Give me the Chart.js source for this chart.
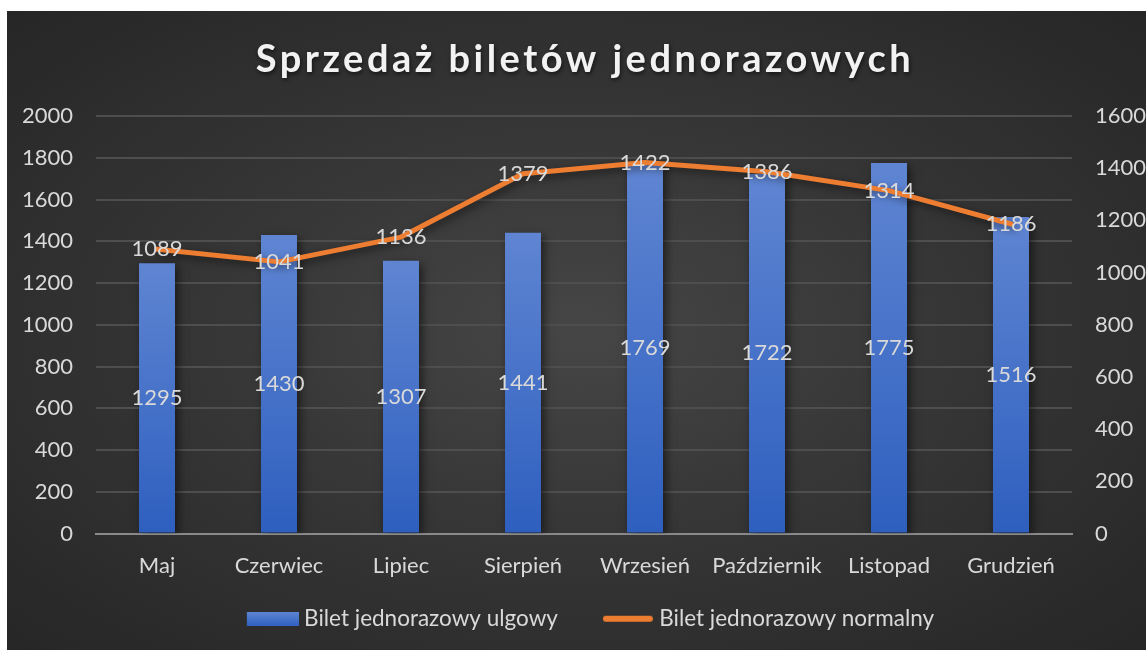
<!DOCTYPE html>
<html lang="pl">
<head>
<meta charset="utf-8">
<title>Sprzedaż biletów jednorazowych</title>
<script src="https://cdn.jsdelivr.net/npm/chart.js@4/dist/chart.umd.min.js"></script>
<style>
  html, body { margin: 0; padding: 0; background: #ffffff; }
  #wrap {
    position: absolute; left: 7px; top: 11px; width: 1139px; height: 639px;
    background: radial-gradient(ellipse at 50% 50%, #464646 0%, #363636 45%, #262626 100%);
  }
  canvas { display: block; }
</style>
</head>
<body>
<div id="wrap"><canvas id="salesChart" width="1139" height="639"></canvas></div>
<script>
// Chart data
const TITLE = 'Sprzedaż biletów jednorazowych';
const months = ['Maj', 'Czerwiec', 'Lipiec', 'Sierpień', 'Wrzesień', 'Październik', 'Listopad', 'Grudzień'];
const reducedTickets = [1295, 1430, 1307, 1441, 1769, 1722, 1775, 1516];
const normalTickets = [1089, 1041, 1136, 1379, 1422, 1386, 1314, 1186];
const leftTicks = [0, 200, 400, 600, 800, 1000, 1200, 1400, 1600, 1800, 2000];
const rightTicks = [0, 200, 400, 600, 800, 1000, 1200, 1400, 1600];

const TEXT_COLOR = '#d9d9d9';
const FONT = 'Lato, "Open Sans", sans-serif';
const FONT_SIZE = 22;

// Legend icons: canvases wider than the legend box, the mark sits in the right part
// so the gap to the text stays small while items keep a wide spacing
const ICON_W = 86, ICON_H = 14, MARK_X = 34;
function makeBarIcon() {
    const c = document.createElement('canvas');
    c.width = ICON_W; c.height = ICON_H;
    const g = c.getContext('2d');
    const grad = g.createLinearGradient(0, 0, 0, ICON_H);
    grad.addColorStop(0, '#5f85d2');
    grad.addColorStop(1, '#2f62c0');
    g.fillStyle = grad;
    g.fillRect(MARK_X, 0, 52, ICON_H);
    return c;
}
function makeLineIcon() {
    const c = document.createElement('canvas');
    c.width = ICON_W; c.height = ICON_H;
    const g = c.getContext('2d');
    g.strokeStyle = '#ed7d31';
    g.lineWidth = 6;
    g.lineCap = 'round';
    g.beginPath();
    g.moveTo(MARK_X + 4, 7);
    g.lineTo(MARK_X + 48, 7);
    g.stroke();
    return c;
}
const legendIcons = [makeBarIcon(), makeLineIcon()];

// Gradient per bar (lighter at the top)
function barGradient(context) {
    const chart = context.chart;
    const { ctx, chartArea, scales } = chart;
    if (!chartArea || context.parsed == null) return '#4472c4';
    const top = scales.y.getPixelForValue(context.parsed.y);
    const bottom = scales.y.getPixelForValue(0);
    const grad = ctx.createLinearGradient(0, top, 0, bottom);
    grad.addColorStop(0, '#5f85d2');
    grad.addColorStop(1, '#2e5fbf');
    return grad;
}

// Shadows under the series, value labels and the title
const decorPlugin = {
    id: 'decor',
    beforeDatasetsDraw(chart) {
        const ctx = chart.ctx;
        ctx.save();
        ctx.shadowColor = 'rgba(0, 0, 0, 0.55)';
        ctx.shadowBlur = 9;
        ctx.shadowOffsetX = 3;
        ctx.shadowOffsetY = 3;
    },
    afterDatasetsDraw(chart) {
        const ctx = chart.ctx;
        ctx.restore();

        ctx.save();
        ctx.font = FONT_SIZE + 'px ' + FONT;
        ctx.fillStyle = TEXT_COLOR;
        ctx.textAlign = 'center';
        ctx.textBaseline = 'middle';
        chart.data.datasets.forEach((ds, i) => {
            const meta = chart.getDatasetMeta(i);
            meta.data.forEach((el, j) => {
                const y = ds.type === 'bar' ? (el.y + el.base) / 2 : el.y;
                ctx.fillText(String(ds.data[j]), el.x, y);
            });
        });
        ctx.restore();
    },
    afterDraw(chart) {
        const ctx = chart.ctx;
        ctx.save();
        ctx.font = 'bold 38px ' + FONT;
        ctx.letterSpacing = '3.5px';
        ctx.fillStyle = '#f2f2f2';
        ctx.textAlign = 'center';
        ctx.textBaseline = 'middle';
        ctx.shadowColor = 'rgba(0, 0, 0, 0.6)';
        ctx.shadowBlur = 4;
        ctx.shadowOffsetX = 1;
        ctx.shadowOffsetY = 2;
        ctx.fillText(TITLE, (chart.chartArea.left + chart.chartArea.right) / 2 + 1, 49);
        ctx.restore();
    }
};

const plainTick = v => String(v);

const ctx = document.getElementById('salesChart').getContext('2d');
new Chart(ctx, {
    data: {
        labels: months,
        datasets: [
            {
                type: 'line',
                label: 'Bilet jednorazowy normalny',
                data: normalTickets,
                yAxisID: 'y1',
                borderColor: '#ed7d31',
                borderWidth: 5,
                borderCapStyle: 'round',
                borderJoinStyle: 'round',
                pointRadius: 0,
                tension: 0,
                order: 1
            },
            {
                type: 'bar',
                label: 'Bilet jednorazowy ulgowy',
                data: reducedTickets,
                yAxisID: 'y',
                backgroundColor: barGradient,
                categoryPercentage: 1,
                barPercentage: 0.295,
                order: 2
            }
        ]
    },
    options: {
        responsive: false,
        devicePixelRatio: 1,
        animation: false,
        layout: { padding: { top: 105, left: 0, right: 0, bottom: 10 } },
        scales: {
            x: {
                grid: { display: false },
                border: { display: true, color: '#8a8a8a', width: 2 },
                ticks: { color: TEXT_COLOR, font: { family: FONT, size: FONT_SIZE }, padding: 11, maxRotation: 0 },
                afterFit: s => { s.height = 58; }
            },
            y: {
                position: 'left',
                min: 0, max: 2000,
                afterBuildTicks: s => { s.ticks = leftTicks.map(v => ({ value: v })); },
                grid: { color: '#4e4e4e', lineWidth: 2, drawTicks: false },
                border: { display: false },
                ticks: { color: TEXT_COLOR, font: { family: FONT, size: FONT_SIZE }, padding: 23, callback: plainTick },
                afterFit: s => { s.width = 89; }
            },
            y1: {
                position: 'right',
                min: 0, max: 1600,
                afterBuildTicks: s => { s.ticks = rightTicks.map(v => ({ value: v })); },
                grid: { display: false, drawTicks: false },
                border: { display: false },
                ticks: { color: TEXT_COLOR, font: { family: FONT, size: FONT_SIZE }, padding: 23, callback: plainTick },
                afterFit: s => { s.width = 74; }
            }
        },
        plugins: {
            title: { display: false },
            tooltip: { enabled: false },
            legend: {
                position: 'bottom',
                reverse: true,
                labels: {
                    color: TEXT_COLOR,
                    font: { family: FONT, size: 22.5 },
                    usePointStyle: true,
                    pointStyleWidth: 74,
                    boxHeight: 14,
                    padding: 16,
                    generateLabels: chart => chart.data.datasets.map((ds, i) => ({
                        text: ds.label,
                        datasetIndex: i,
                        hidden: false,
                        lineWidth: 0,
                        fontColor: TEXT_COLOR,
                        pointStyle: legendIcons[ds.type === 'bar' ? 0 : 1]
                    }))
                }
            }
        }
    },
    plugins: [decorPlugin]
});
</script>
</body>
</html>
